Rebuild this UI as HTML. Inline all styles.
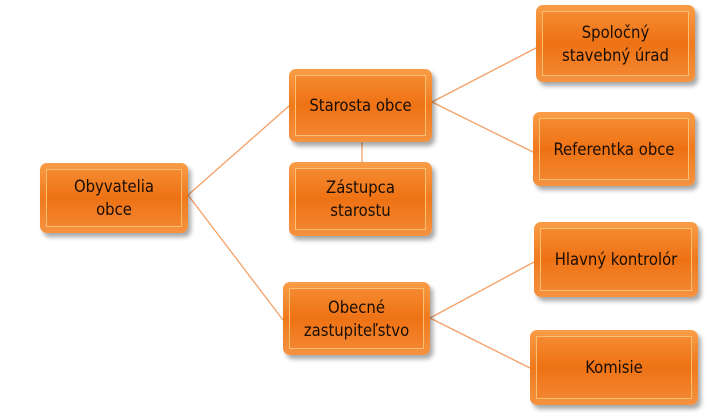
<!DOCTYPE html>
<html><head><meta charset="utf-8"><style>
body{margin:0;width:720px;height:420px;background:#fff;position:relative;overflow:hidden;font-family:"Liberation Sans",sans-serif}
svg{position:absolute;left:0;top:0}
.b{position:absolute;border-radius:7px;background:linear-gradient(#fa9d48,#f07a1c 50%,#f59240);box-shadow:3px 4px 5px rgba(0,0,0,.35)}
.b .i{position:absolute;left:6px;top:6px;right:6px;bottom:6px;border:1px solid #fbbf72;background:linear-gradient(#f58a30,#ee7214 50%,#f38530);display:flex;align-items:center;justify-content:center;text-align:center;font-family:"DejaVu Sans Condensed","Liberation Sans Narrow","Liberation Sans",sans-serif;font-size:16.5px;line-height:23px;color:#1a0e05}
</style></head><body>
<svg width="720" height="420"><g stroke="#f4a068" stroke-width="1.3" fill="none">
<line x1="188" y1="195" x2="289" y2="106"/><line x1="188" y1="195" x2="283" y2="320"/>
<line x1="432" y1="102" x2="536" y2="48"/><line x1="432" y1="102" x2="533" y2="152"/>
<line x1="362" y1="142" x2="362" y2="163"/>
<line x1="430" y1="318" x2="534" y2="262"/><line x1="430" y1="318" x2="530" y2="368"/>
</g></svg>
<div class="b" style="left:40px;top:163px;width:148px;height:70px"><div class="i">Obyvatelia<br>obce</div></div>
<div class="b" style="left:289px;top:69px;width:143px;height:73px"><div class="i">Starosta obce</div></div>
<div class="b" style="left:289px;top:162px;width:143px;height:74px"><div class="i">Zástupca<br>starostu</div></div>
<div class="b" style="left:283px;top:282px;width:147px;height:73px"><div class="i">Obecné<br>zastupiteľstvo</div></div>
<div class="b" style="left:536px;top:5px;width:159px;height:77px"><div class="i">Spoločný<br>stavebný úrad</div></div>
<div class="b" style="left:533px;top:112px;width:162px;height:74px"><div class="i">Referentka obce</div></div>
<div class="b" style="left:534px;top:222px;width:164px;height:75px"><div class="i">Hlavný kontrolór</div></div>
<div class="b" style="left:530px;top:330px;width:168px;height:75px"><div class="i">Komisie</div></div>
</body></html>
